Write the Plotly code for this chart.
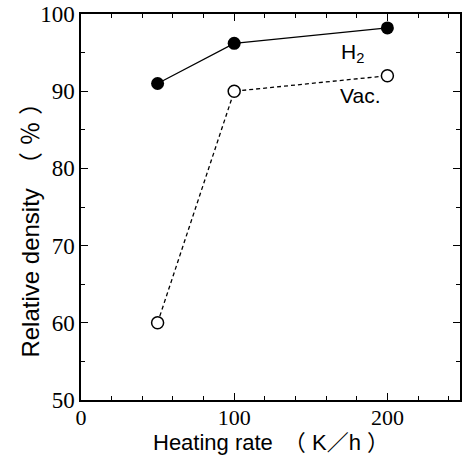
import plotly.graph_objects as go

rate = [50, 100, 200]
h2_density = [91.0, 96.2, 98.2]
vac_density = [60.0, 90.0, 92.0]
x_ticks = [0, 100, 200]
y_ticks = [50, 60, 70, 80, 90, 100]

fig = go.Figure()
fig.add_trace(go.Scatter(x=rate, y=h2_density, mode="lines+markers",
                         line=dict(color="black", width=1.3),
                         marker=dict(symbol="circle", size=13, color="black"),
                         showlegend=False))
fig.add_trace(go.Scatter(x=rate, y=vac_density, mode="lines+markers",
                         line=dict(color="black", width=1.3, dash="4px,3px"),
                         marker=dict(symbol="circle", size=12, color="white",
                                     line=dict(width=1.5, color="black")),
                         showlegend=False))

serif = "Liberation Serif, Times New Roman, serif"
sans = "Liberation Sans, Noto Sans CJK JP, sans-serif"

fig.add_annotation(x=177, y=94.9, text="H<sub>2</sub>", showarrow=False,
                   font=dict(family=sans, size=21, color="black"))
fig.add_annotation(x=181.8, y=89.4, text="Vac.", showarrow=False,
                   font=dict(family=sans, size=21, color="black"))
fig.add_annotation(xref="paper", yref="paper", x=-0.134, y=0.455,
                   text="Relative density　（ ％ ）", textangle=-90,
                   showarrow=False, xanchor="center", yanchor="middle",
                   font=dict(family=sans, size=24, color="black"))
fig.add_annotation(xref="paper", yref="paper", x=0.5, y=-0.109,
                   text="Heating rate　（ K／h ）",
                   showarrow=False, xanchor="center", yanchor="middle",
                   font=dict(family=sans, size=22, color="black"))

fig.update_layout(
    width=462, height=455,
    margin=dict(l=81, r=0, t=14, b=55),
    paper_bgcolor="white", plot_bgcolor="white",
    xaxis=dict(range=[0, 247.4], tickvals=x_ticks, ticks="inside", ticklen=7,
               tickcolor="black", tickwidth=1, showline=True, linecolor="black",
               linewidth=1.5, mirror="ticks", showgrid=False, zeroline=False,
               ticklabelstandoff=-3,
               tickfont=dict(family=serif, size=22, color="black"),
               minor=dict(dtick=20, tick0=0, ticks="inside", ticklen=4,
                          tickcolor="black", showgrid=False)),
    yaxis=dict(range=[50, 100], tickvals=y_ticks, ticks="inside", ticklen=7,
               tickcolor="black", tickwidth=1, showline=True, linecolor="black",
               linewidth=1.5, mirror="ticks", showgrid=False, zeroline=False,
               tickfont=dict(family=serif, size=23, color="black"),
               minor=dict(dtick=5, tick0=50, ticks="inside", ticklen=4,
                          tickcolor="black", showgrid=False)),
)

fig.write_html("out.html")
